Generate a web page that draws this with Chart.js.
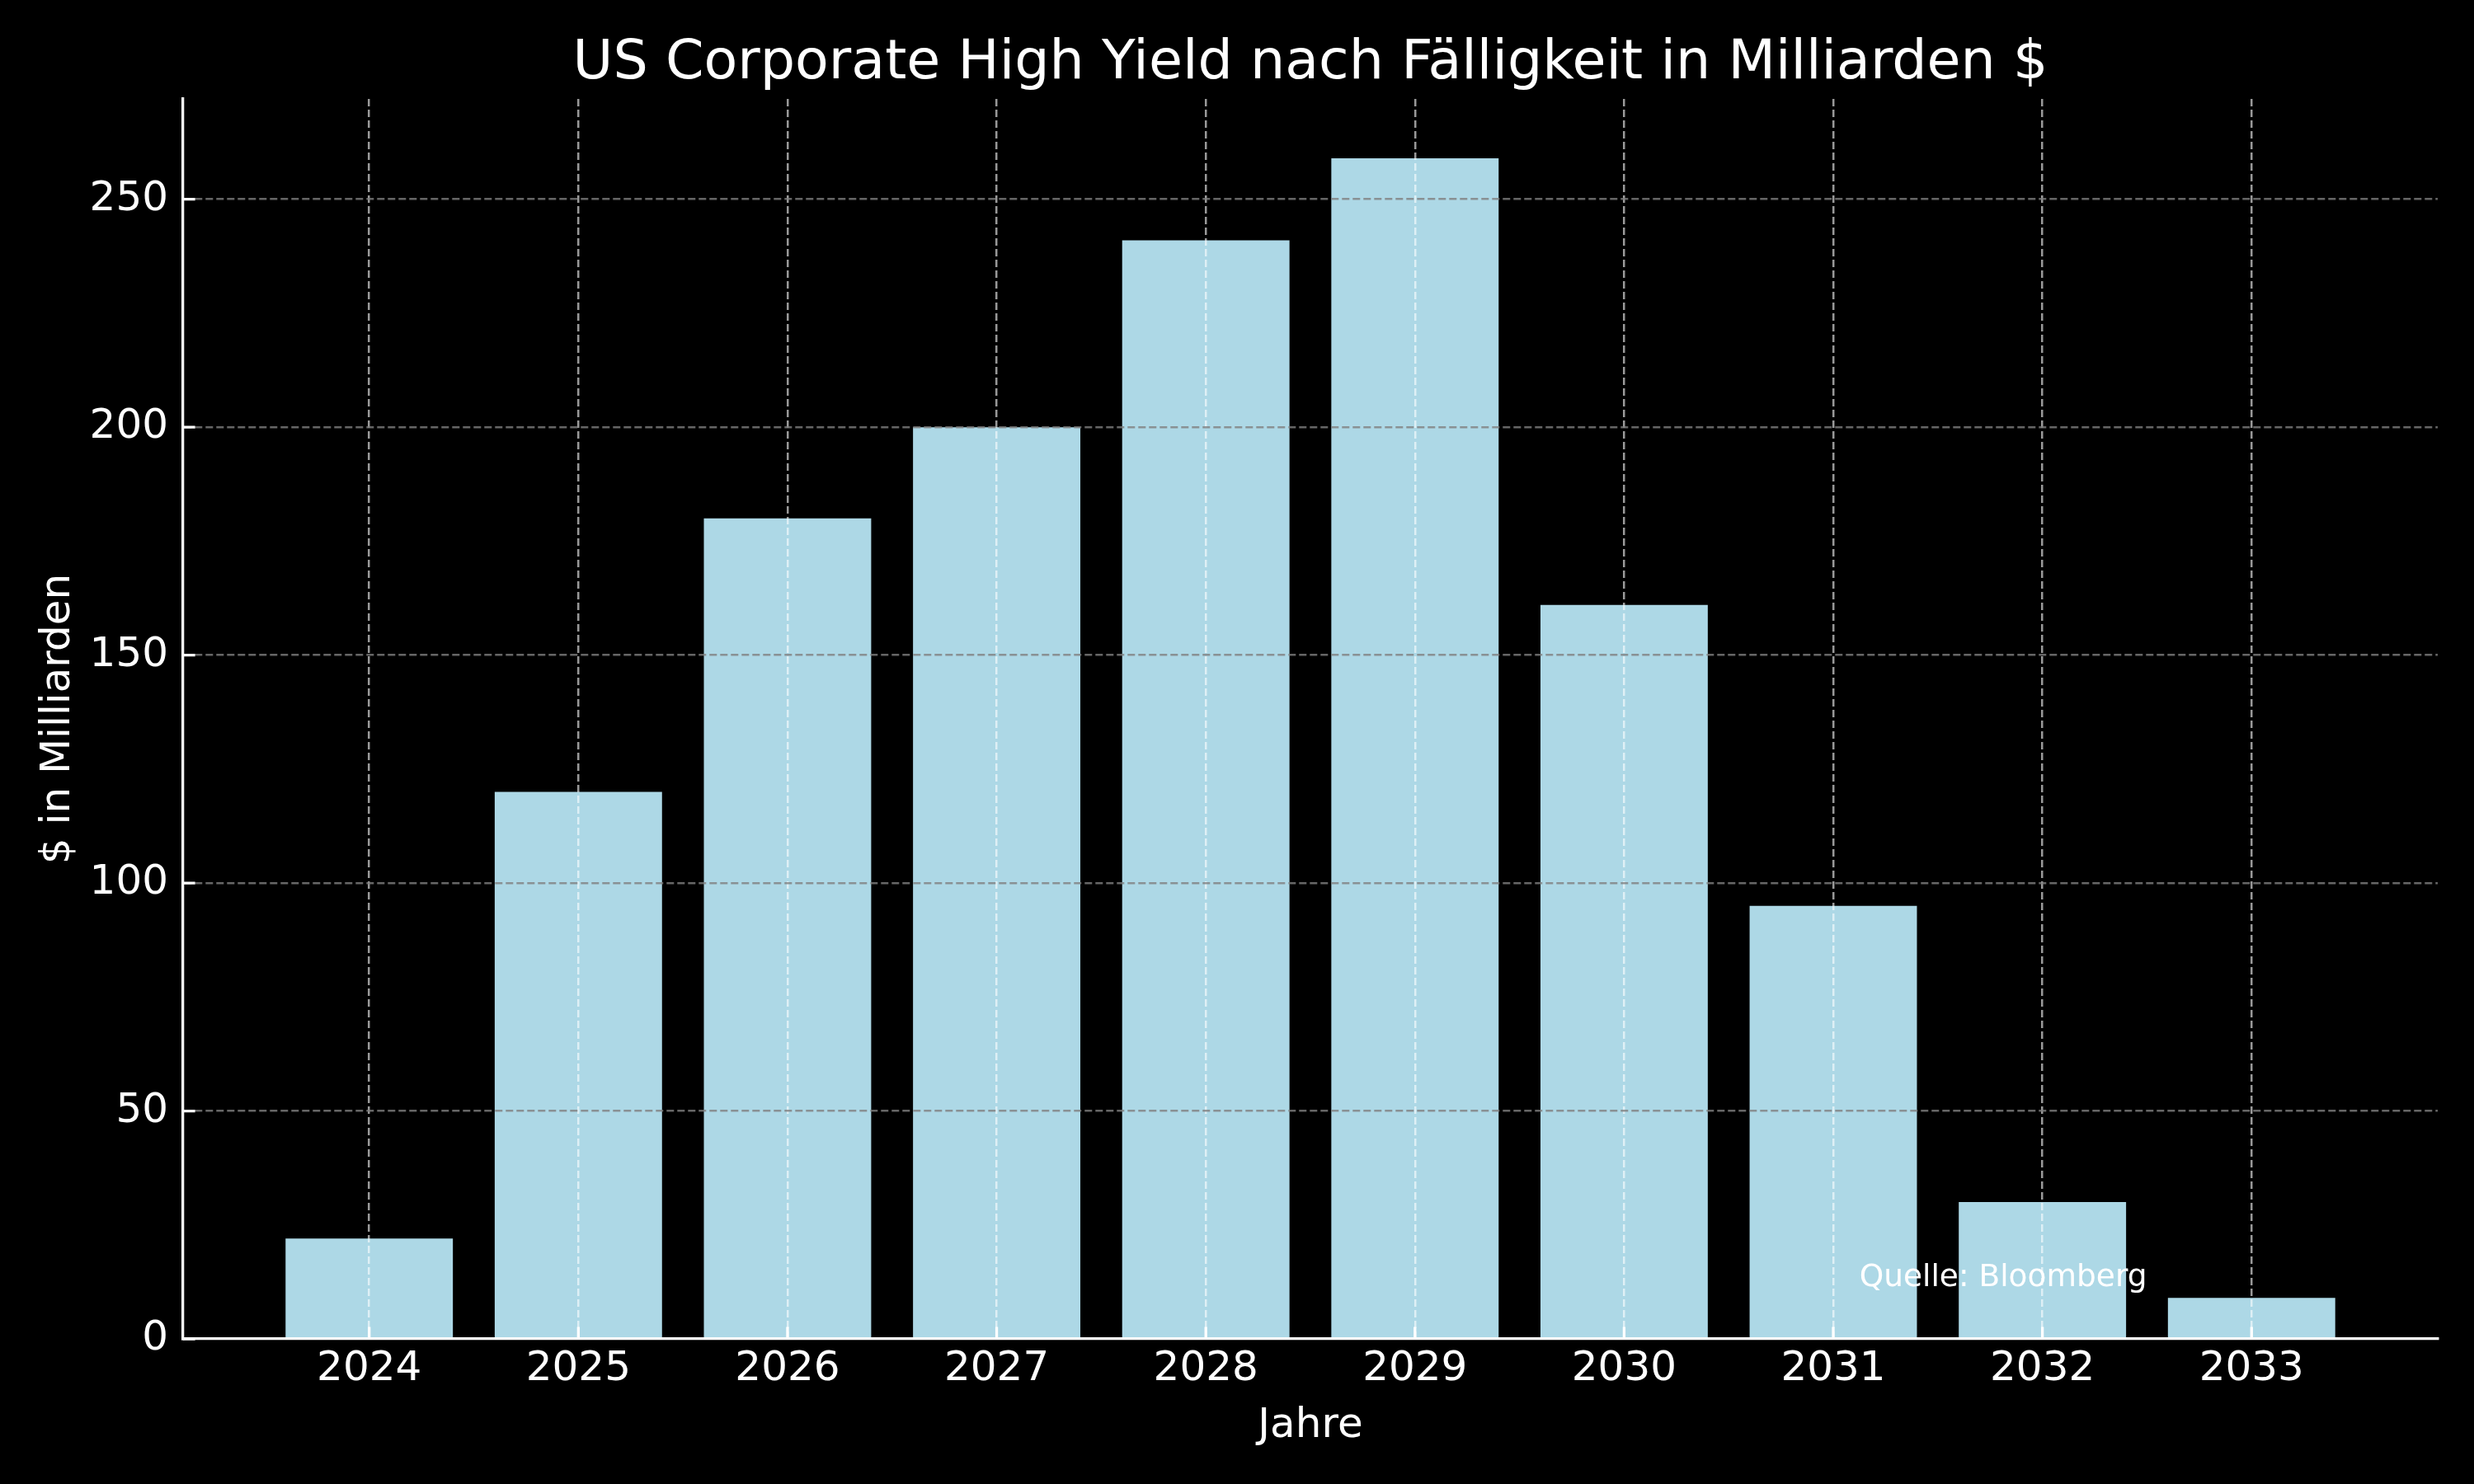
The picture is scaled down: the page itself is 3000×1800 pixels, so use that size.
<!DOCTYPE html>
<html>
<head>
<meta charset="utf-8">
<script src="https://cdn.jsdelivr.net/npm/chart.js@4.4.1/dist/chart.umd.min.js"></script>
<style>
  html, body { margin: 0; padding: 0; background: #000; }
  canvas { display: block; }
</style>
</head>
<body>
<canvas id="hyChart" width="3000" height="1800"></canvas>
<script>
// Fälligkeiten US High Yield (Mrd. $)
const years = ["2024", "2025", "2026", "2027", "2028", "2029", "2030", "2031", "2032", "2033"];
const volumes = [22, 120, 180, 200, 241, 259, 161, 95, 30, 9];
const yTicks = [0, 50, 100, 150, 200, 250];

const sourceNote = "Quelle: Bloomberg";
const font = "'DejaVu Sans', sans-serif";

// matplotlib-like black background
const bgPlugin = {
  id: 'bg',
  beforeDraw(chart) {
    const ctx = chart.ctx;
    ctx.save();
    ctx.fillStyle = '#000';
    ctx.fillRect(0, 0, chart.width, chart.height);
    ctx.restore();
  }
};

// ticks pointing into the plot + source note
const extrasPlugin = {
  id: 'extras',
  afterDraw(chart) {
    const ctx = chart.ctx;
    const xs = chart.scales.x, ys = chart.scales.y;
    const area = chart.chartArea;
    ctx.save();
    ctx.strokeStyle = '#fff';
    ctx.lineWidth = 3.3;
    ctx.beginPath();
    xs.ticks.forEach(t => {
      const px = xs.getPixelForValue(t.value);
      ctx.moveTo(px, area.bottom);
      ctx.lineTo(px, area.bottom - 14.6);
    });
    ys.ticks.forEach(t => {
      const py = ys.getPixelForValue(t.value);
      ctx.moveTo(area.left, py);
      ctx.lineTo(area.left + 14.6, py);
    });
    ctx.stroke();

    ctx.fillStyle = '#fff';
    ctx.font = "37.5px " + font;
    ctx.textAlign = 'right';
    ctx.textBaseline = 'bottom';
    ctx.fillText(sourceNote, xs.getPixelForValue(8.5), ys.getPixelForValue(10));
    ctx.restore();
  }
};

new Chart(document.getElementById('hyChart').getContext('2d'), {
  type: 'bar',
  data: {
    datasets: [{
      data: years.map((y, i) => ({ x: i, y: volumes[i] })),
      backgroundColor: '#add8e6',
      borderWidth: 0,
      barPercentage: 0.8,
      categoryPercentage: 1.0
    }]
  },
  options: {
    responsive: false,
    devicePixelRatio: 1,
    animation: false,
    layout: { padding: { top: 0, right: 44, bottom: 0, left: 0 } },
    plugins: {
      legend: { display: false },
      tooltip: { enabled: false },
      title: {
        display: true,
        fullSize: false,
        text: 'US Corporate High Yield nach Fälligkeit in Milliarden $',
        color: '#fff',
        font: { family: font, size: 66.7, weight: 'normal', lineHeight: 1.2 },
        padding: { top: 38, bottom: 2 }
      }
    },
    scales: {
      x: {
        type: 'linear',
        min: -0.89,
        max: 9.89,
        offset: false,
        afterBuildTicks(scale) {
          scale.ticks = years.map((y, i) => ({ value: i }));
        },
        afterFit(scale) { scale.height = 176; },
        ticks: {
          color: '#fff',
          font: { family: font, size: 50 },
          padding: 7,
          maxRotation: 0,
          autoSkip: false,
          callback: (v) => years[v]
        },
        grid: {
          offset: false,
          z: 1,
          color: 'rgba(255,255,255,0.6)',
          lineWidth: 2.5,
          drawTicks: false
        },
        border: { display: true, z: 2, color: '#fff', width: 3.3, dash: [9, 4] },
        title: {
          display: true,
          text: 'Jahre',
          color: '#fff',
          font: { family: font, size: 50, lineHeight: 1.2 },
          padding: { top: 0, bottom: 40 }
        }
      },
      y: {
        min: 0,
        max: 272,
        afterBuildTicks(scale) {
          scale.ticks = yTicks.map(v => ({ value: v }));
        },
        afterFit(scale) { scale.width = 222; },
        ticks: {
          color: '#fff',
          font: { family: font, size: 50 },
          padding: 18
        },
        grid: {
          z: 1,
          color: (c) => (c.tick && c.tick.value === 0) ? 'rgba(0,0,0,0)' : 'rgba(128,128,128,0.8)',
          lineWidth: 2.5,
          drawTicks: false
        },
        border: { display: true, z: 2, color: '#fff', width: 3.3, dash: [9, 4] },
        title: {
          display: true,
          text: '$ in Milliarden',
          color: '#fff',
          font: { family: font, size: 50, lineHeight: 1.2 },
          padding: { top: 41, bottom: 0 }
        }
      }
    }
  },
  plugins: [bgPlugin, extrasPlugin]
});
</script>
</body>
</html>
